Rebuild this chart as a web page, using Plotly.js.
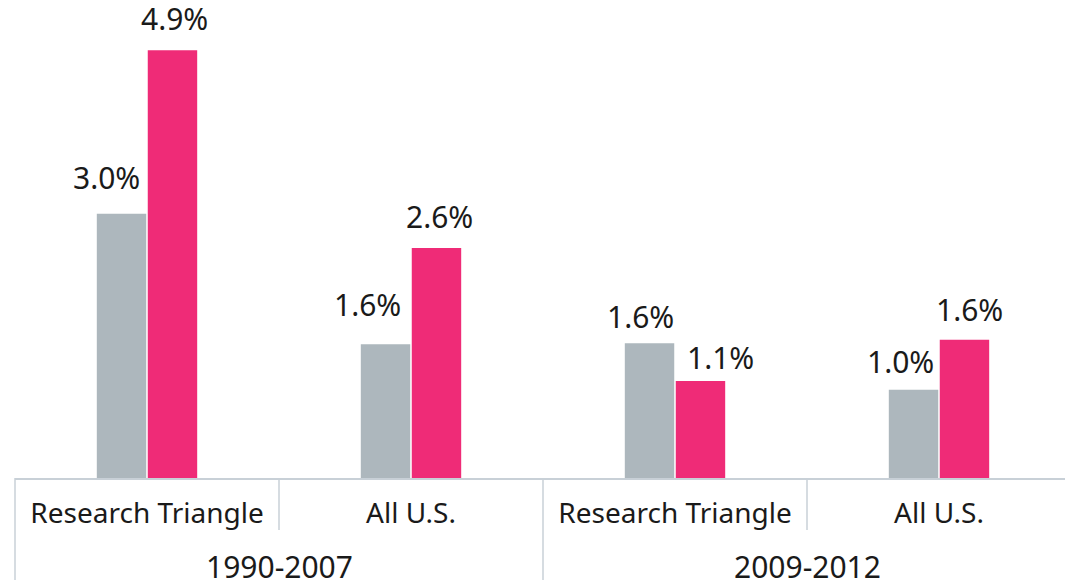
<!DOCTYPE html>
<html>
<head>
<meta charset="utf-8">
<script src="https://cdn.plot.ly/plotly-3.0.1.min.js"></script>
<style>
  html, body { margin: 0; padding: 0; overflow: hidden; background: #fff; }
  #chart { width: 1075px; height: 580px; }
</style>
</head>
<body>
<div id="chart"></div>
<script>
// Growth comparison: Research Triangle vs all U.S., two periods.
const categories = ['Research Triangle', 'All U.S.', 'Research Triangle', 'All U.S.'];
const groups     = ['1990-2007', '2009-2012'];
const grayValues = [3.02, 1.53, 1.54, 1.01];
const pinkValues = [4.89, 2.63, 1.11, 1.58];
const grayLabels = ['3.0%', '1.6%', '1.6%', '1.0%'];
const pinkLabels = ['4.9%', '2.6%', '1.1%', '1.6%'];

// hand placement of the value labels (pixels from category centre / bar top)
const grayNudge = [[-41, 14], [-44, 17], [-35, 4], [-39, 6]];
const pinkNudge = [[27, 9], [28, 9], [45, 1], [30, 8]];

const FONT = '"Noto Sans", "Open Sans", sans-serif';
const LINE = '#c8d0d7';
const xs = categories.map((_, i) => i);

const traces = [
  { type: 'bar', x: xs, y: grayValues, marker: { color: '#adb7bd' },
    hoverinfo: 'skip', showlegend: false },
  { type: 'bar', x: xs, y: pinkValues, marker: { color: '#ef2b77' },
    hoverinfo: 'skip', showlegend: false }
];

const annotations = [];
const addLabels = (vals, labels, nudge) => vals.forEach((v, i) => {
  annotations.push({
    x: xs[i], y: v, xref: 'x', yref: 'y', text: labels[i], showarrow: false,
    xanchor: 'center', yanchor: 'bottom', xshift: nudge[i][0], yshift: nudge[i][1],
    font: { family: FONT, size: 30, color: '#1a1a1a' }
  });
});
addLabels(grayValues, grayLabels, grayNudge);
addLabels(pinkValues, pinkLabels, pinkNudge);

groups.forEach((g, k) => {
  annotations.push({
    x: 2 * k + 0.5, y: 0, xref: 'x', yref: 'paper', text: g, showarrow: false,
    xanchor: 'center', yanchor: 'top', yshift: -66,
    font: { family: FONT, size: 30, color: '#1a1a1a' }
  });
});

// divider lines under the axis: long between groups, short between categories
const shapes = [];
for (let k = 0; k <= categories.length; k++) {
  const long = k % 2 === 0;
  shapes.push({
    type: 'line', xref: 'paper', yref: 'paper',
    x0: k / categories.length, x1: k / categories.length,
    y0: 0, y1: long ? -102 / 478 : -52 / 478,
    line: { color: LINE, width: 1.5 }
  });
}

const layout = {
  width: 1075, height: 580,
  margin: { l: 15, r: 4, t: 0, b: 102 },
  paper_bgcolor: '#fff', plot_bgcolor: '#fff',
  barmode: 'group', bargap: 0.614, bargroupgap: 0.03,
  xaxis: {
    range: [-0.5, 3.5], tickvals: xs, ticktext: categories,
    tickfont: { family: FONT, size: 28, color: '#1a1a1a' },
    ticks: 'outside', ticklen: 10, tickcolor: 'rgba(0,0,0,0)',
    showline: true, linecolor: LINE, linewidth: 1.5,
    showgrid: false, zeroline: false, fixedrange: true
  },
  yaxis: { range: [0, 5.463], visible: false, fixedrange: true },
  annotations: annotations,
  shapes: shapes,
  font: { family: FONT }
};

Plotly.newPlot('chart', traces, layout, { staticPlot: true });
</script>
</body>
</html>
